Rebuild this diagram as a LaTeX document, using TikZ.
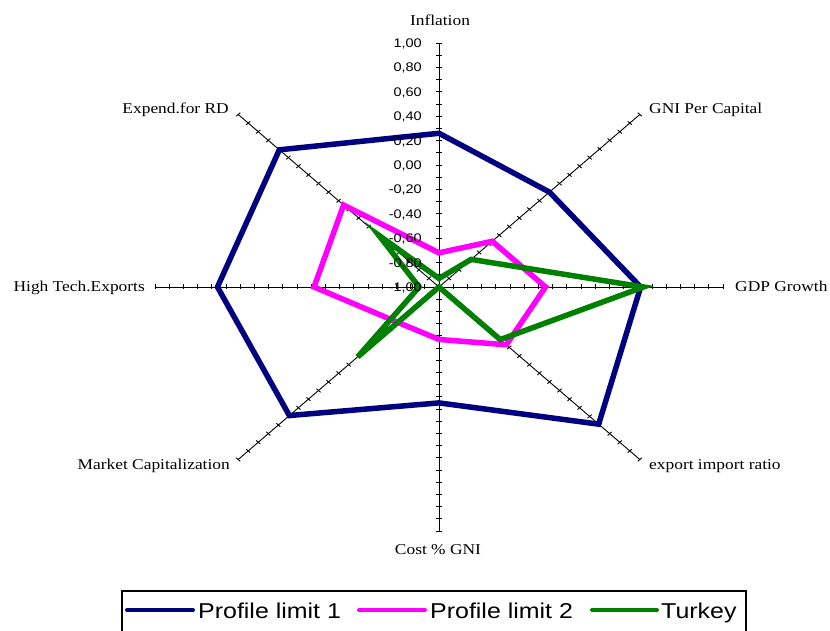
\documentclass[tikz,border=0pt]{standalone}
\usepackage{fontspec}
\setmainfont{Liberation Serif}
% chart fonts are set slightly wide
\newfontfamily\axisfont{Liberation Serif}[FakeStretch=1.16]
\newfontfamily\valfont{Liberation Sans}[FakeStretch=1.16]
\definecolor{navyline}{RGB}{0,0,128}
\definecolor{magline}{RGB}{255,0,255}
\definecolor{greenline}{RGB}{0,128,0}
\begin{document}
\begin{tikzpicture}[x=1pt,y=1pt,
  axisline/.style={line width=0.9pt, black},
  series/.style={line width=5.5pt, line join=miter},
  axislabel/.style={font=\axisfont\fontsize{15}{18}\selectfont, inner sep=0pt},
  vallabel/.style={font=\valfont\fontsize{12.5}{14}\selectfont, inner sep=0pt, anchor=base east},
  keytext/.style={font=\valfont\fontsize{21.5}{24}\selectfont, inner sep=0pt, anchor=base west},
  keyline/.style={line width=4pt, line cap=round}]
\useasboundingbox (0,0) rectangle (830,631);

% radar grid: eight spokes, ticks every 0.1
\begin{scope}[shift={(439,344)}, xscale=1.164]
  \coordinate (c) at (0,0);
  \foreach \a in {0,45,...,315} {
    \begin{scope}[rotate=\a]
      \draw[axisline] (0,0) -- (244,0);
      \foreach \k in {0,...,20}
        \draw[axisline] ({\k*12.2},-2.5) -- ({\k*12.2},2.5);
    \end{scope}
  }
  % data points, value v on radius (v+1)*122
  \foreach \v [count=\i] in {0.26,0.10,0.42,0.59,-0.05,0.49,0.56,0.59}
    \coordinate (a\i) at ({90-45*(\i-1)}:{(\v+1)*122});
  \foreach \v [count=\i] in {-0.72,-0.47,-0.25,-0.33,-0.57,-0.59,-0.12,-0.05}
    \coordinate (b\i) at ({90-45*(\i-1)}:{(\v+1)*122});
  \foreach \v [count=\i] in {-0.93,-0.68,0.44,-0.39,-1.0,-0.19,-0.86,-0.40}
    \coordinate (t\i) at ({90-45*(\i-1)}:{(\v+1)*122});
\end{scope}

\draw[series, navyline] (a1) -- (a2) -- (a3) -- (a4) -- (a5) -- (a6) -- (a7) -- (a8) -- cycle;
\draw[series, magline] (b1) -- (b2) -- (b3) -- (b4) -- (b5) -- (b6) -- (b7) -- (b8) -- cycle;
\draw[series, greenline] (t1) -- (t2) -- (t3) -- (t4) -- (t5) -- (t6) -- (t7) -- (t8) -- cycle;

% value scale on the upward spoke
\foreach \t [count=\j from 0] in {{-1,00},{-0,80},{-0,60},{-0,40},{-0,20},{0,00},{0,20},{0,40},{0,60},{0,80},{1,00}}
  \node[vallabel] (v\j) at (422,{344+\j*24.4-4.6}) {\t};

% spoke titles
\node[axislabel, anchor=base] (l1) at (440,605) {Inflation};
\node[axislabel, anchor=base west] (l2) at (649,517) {GNI Per Capital};
\node[axislabel, anchor=base west] (l3) at (735,339) {GDP Growth};
\node[axislabel, anchor=base west] (l4) at (649,161) {export import ratio};
\node[axislabel, anchor=base] (l5) at (438,76) {Cost \% GNI};
\node[axislabel, anchor=base east] (l6) at (230,161) {Market Capitalization};
\node[axislabel, anchor=base east] (l7) at (145,339) {High Tech.Exports};
\node[axislabel, anchor=base east] (l8) at (229,517) {Expend.for RD};

% legend
\draw[line width=1.2pt] (122,-10) rectangle (746,40);
\coordinate (k1a) at (127,21); \coordinate (k1b) at (193,21);
\coordinate (k2a) at (359,21); \coordinate (k2b) at (425,21);
\coordinate (k3a) at (592,21); \coordinate (k3b) at (657,21);
\draw[keyline, navyline] (k1a) -- (k1b);
\draw[keyline, magline] (k2a) -- (k2b);
\draw[keyline, greenline] (k3a) -- (k3b);
\node[keytext] (kt1) at (198,12) {Profile limit 1};
\node[keytext] (kt2) at (430,12) {Profile limit 2};
\node[keytext] (kt3) at (661,12) {Turkey};
\end{tikzpicture}
\end{document}
